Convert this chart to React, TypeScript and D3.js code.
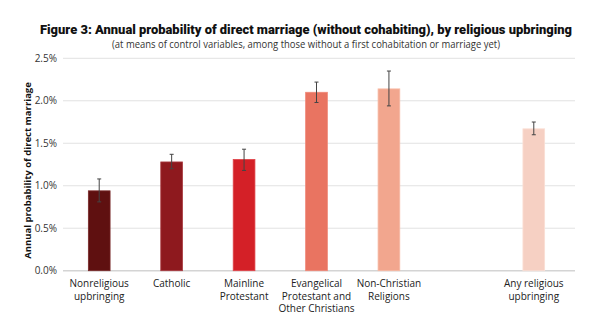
import React from "react";
import * as d3 from "d3";

const categories = [
  "Nonreligious|upbringing",
  "Catholic",
  "Mainline|Protestant",
  "Evangelical|Protestant and|Other Christians",
  "Non-Christian|Religions",
  "",
  "Any religious|upbringing",
];
const values = [0.94, 1.28, 1.31, 2.1, 2.14, null, 1.67];
const lower = [0.81, 1.2, 1.18, 1.98, 1.94, null, 1.6];
const upper = [1.08, 1.37, 1.43, 2.22, 2.35, null, 1.75];
const colors = ["#5f1010", "#8e191e", "#d42027", "#e97461", "#f2a68e", "", "#f6d0c3"];
const borders = ["#7a2a2a", "#a83a40", "#e0454b", "#f08878", "#f7bba6", "", "#fadfd5"];
const yTicks = [0, 0.5, 1.0, 1.5, 2.0, 2.5];

const W = 600;
const H = 333;

export default function App() {
  const x = d3.scaleBand<string>().domain(categories.map((c, i) => String(i))).range([63, 570]).padding(0);
  const y = d3.scaleLinear().domain([0, 2.5]).range([270.7, 58.3]);
  const bw = x.bandwidth() * 0.3;
  const font = "'Open Sans', 'Noto Sans', sans-serif";
  return (
    <svg width={W} height={H} style={{ position: "absolute", left: 0, top: 0, background: "#fff" }}>
      <text x={306} y={34} textAnchor="middle" fontFamily="Roboto, sans-serif" fontWeight={900} fontSize={13.5}
        textLength={532} lengthAdjust="spacingAndGlyphs" fill="#111">
        Figure 3: Annual probability of direct marriage (without cohabiting), by religious upbringing
      </text>
      <text x={306} y={48} textAnchor="middle" fontFamily={font} fontSize={10} fill="#333"
        textLength={388} lengthAdjust="spacingAndGlyphs">
        (at means of control variables, among those without a first cohabitation or marriage yet)
      </text>
      {yTicks.map((t) => (
        <g key={t}>
          <line x1={63} x2={575} y1={y(t)} y2={y(t)} stroke={t === 0 ? "#d4d4d4" : "#e2e2e2"} strokeWidth={t === 0 ? 1.5 : 1} />
          <text x={57} y={y(t) + 3.5} textAnchor="end" fontFamily={font} fontSize={10} fill="#333">
            {t.toFixed(1)}%
          </text>
        </g>
      ))}
      <text transform={`translate(31,${(y(0) + y(2.5)) / 2 + 6}) rotate(-90)`} textAnchor="middle"
        fontFamily={font} fontWeight={700} fontSize={9.5} fill="#111">
        Annual probability of direct marriage
      </text>
      {categories.map((c, i) => {
        const v = values[i];
        const cx = (x(String(i)) as number) + x.bandwidth() / 2;
        const lines = c ? c.split("|") : [];
        return (
          <g key={i}>
            {v !== null && (
              <rect x={cx - bw / 2} y={y(v)} width={bw} height={y(0) - y(v)} fill={colors[i]}
                stroke={borders[i]} strokeWidth={0.8} />
            )}
            {v !== null && (
              <g stroke="#444" strokeWidth={1}>
                <line x1={cx} x2={cx} y1={y(upper[i] as number)} y2={y(lower[i] as number)} />
                <line x1={cx - 2} x2={cx + 2} y1={y(upper[i] as number)} y2={y(upper[i] as number)} />
                <line x1={cx - 2} x2={cx + 2} y1={y(lower[i] as number)} y2={y(lower[i] as number)} />
              </g>
            )}
            {lines.map((l, j) => (
              <text key={j} x={cx} y={287 + j * 12.5} textAnchor="middle" fontFamily={font} fontSize={10} fill="#222">
                {l}
              </text>
            ))}
          </g>
        );
      })}
    </svg>
  );
}
